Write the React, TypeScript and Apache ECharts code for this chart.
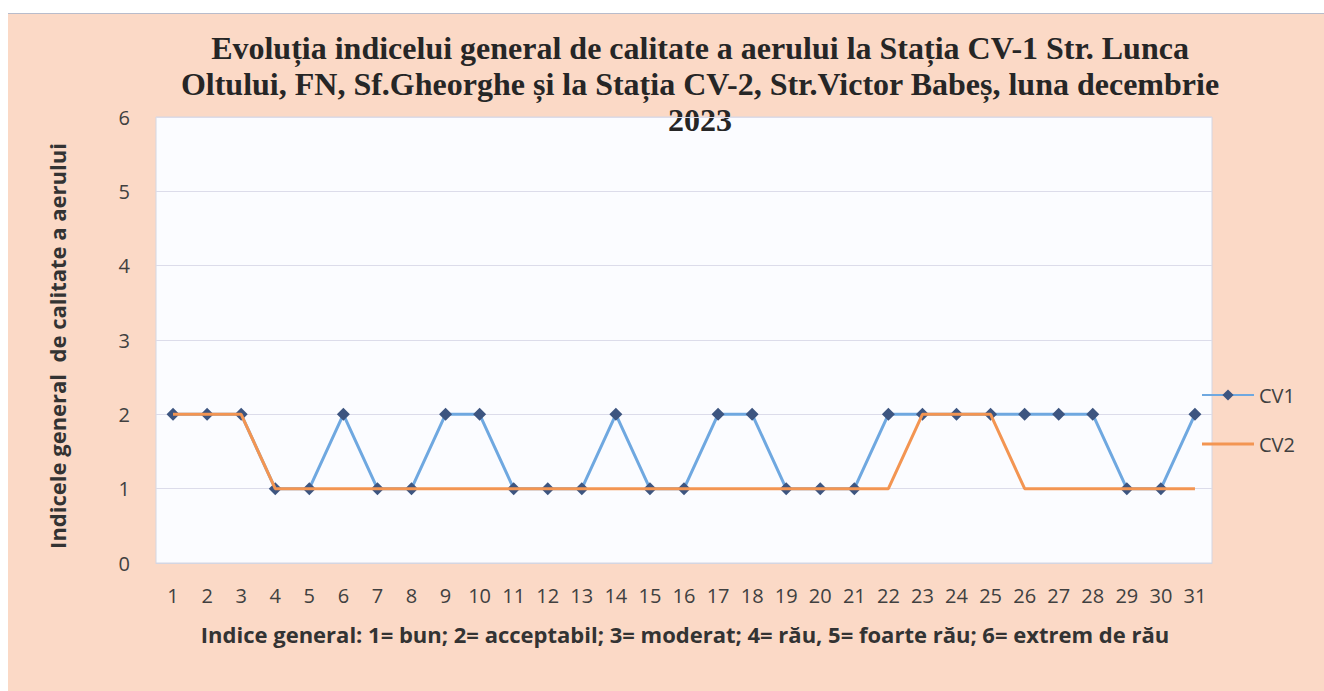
import React, { useEffect, useRef } from "react";
import * as echarts from "echarts";

const days = ["1","2","3","4","5","6","7","8","9","10","11","12","13","14","15","16","17","18","19","20","21","22","23","24","25","26","27","28","29","30","31"];
const cv1 = [2,2,2,1,1,2,1,1,2,2,1,1,1,2,1,1,2,2,1,1,1,2,2,2,2,2,2,2,1,1,2];
const cv2 = [2,2,2,1,1,1,1,1,1,1,1,1,1,1,1,1,1,1,1,1,1,1,2,2,2,1,1,1,1,1,1];
const yTicks = [0, 1, 2, 3, 4, 5, 6];

const titleLines = [
  "Evoluția indicelui general de calitate a aerului la Stația CV-1 Str. Lunca",
  "Oltului, FN, Sf.Gheorghe și la Stația CV-2, Str.Victor Babeș, luna decembrie",
  "2023",
];
const yName = "Indicele general  de calitate a aerului";
const xName = "Indice general: 1= bun; 2= acceptabil; 3= moderat; 4= rău, 5= foarte rău; 6= extrem de rău";

export default function App() {
  const ref = useRef<HTMLDivElement>(null);
  useEffect(() => {
    if (!ref.current) return;
    const chart = echarts.init(ref.current, undefined, { renderer: "svg" });
    chart.setOption({
      animation: false,
      backgroundColor: "transparent",
      textStyle: { fontFamily: "Open Sans" },
      grid: {
        left: 148,
        top: 103,
        width: 1056,
        height: 446,
        show: true,
        backgroundColor: "#fbfcff",
        borderColor: "#d4d6e2",
        borderWidth: 1,
      },
      graphic: [
        {
          type: "text",
          x: 692,
          y: 16,
          style: {
            text: titleLines.join("\n"),
            font: "bold 32px 'Liberation Serif'",
            fill: "#262626",
            align: "center",
            verticalAlign: "top",
            lineHeight: 36,
          },
        },
        {
          type: "text",
          x: 49,
          y: 332,
          rotation: Math.PI / 2,
          style: {
            text: yName,
            font: "bold 22px 'Open Sans'",
            fill: "#333333",
            align: "center",
            verticalAlign: "middle",
          },
        },
        {
          type: "text",
          x: 685 - 8,
          y: 633 - 13,
          style: {
            text: xName,
            font: "bold 22px 'Open Sans'",
            fill: "#333333",
            align: "center",
            verticalAlign: "middle",
          },
        },
      ],
      legend: {
        orient: "vertical",
        left: 1188,
        top: 366,
        itemGap: 29,
        itemWidth: 52,
        itemHeight: 14,
        textStyle: { fontSize: 20, color: "#404040", fontFamily: "Open Sans" },
        data: [{ name: "CV1" }, { name: "CV2", icon: "path://M0,0 L52,0 L52,3 L0,3 Z" }],
      },
      xAxis: {
        type: "category",
        data: days,
        boundaryGap: true,
        axisLine: { show: true, lineStyle: { color: "#d4d6e2" } },
        axisTick: { show: false },
        axisLabel: { color: "#404040", fontSize: 20, margin: 22, interval: 0, fontFamily: "Open Sans" },
      },
      yAxis: {
        type: "value",
        min: 0,
        max: 6,
        interval: 1,
        axisLine: { show: false },
        axisTick: { show: false },
        axisLabel: {
          color: "#404040",
          fontSize: 20,
          margin: 26,
          fontFamily: "Open Sans",
          formatter: (v: number) => (yTicks.includes(v) ? String(v) : ""),
        },
        splitLine: { lineStyle: { color: "#dcdcea", width: 1 } },
      },
      series: [
        {
          name: "CV1",
          type: "line",
          data: cv1,
          symbol: "diamond",
          symbolSize: 13,
          lineStyle: { color: "#6fa8e0", width: 3 },
          itemStyle: { color: "#3d5580" },
          z: 2,
        },
        {
          name: "CV2",
          type: "line",
          data: cv2,
          symbol: "none",
          lineStyle: { color: "#f39552", width: 3 },
          itemStyle: { color: "#f39552" },
          z: 3,
        },
      ],
    });
    return () => chart.dispose();
  }, []);
  return (
    <div style={{ position: "fixed", left: 0, top: 0, width: 1324, height: 691, background: "#ffffff" }}>
      <div
        style={{
          position: "absolute",
          left: 8,
          top: 13,
          width: 1316,
          height: 678,
          background: "#fbd9c6",
          borderTop: "1px solid #b8bccb",
          boxSizing: "border-box",
        }}
      >
        <div ref={ref} style={{ width: 1316, height: 677 }} />
      </div>
    </div>
  );
}
